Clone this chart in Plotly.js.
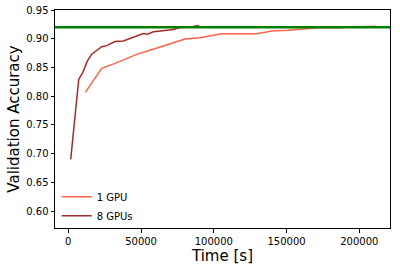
<!DOCTYPE html>
<html>
<head>
<meta charset="utf-8">
<script src="https://cdn.plot.ly/plotly-3.0.1.min.js"></script>
<style>html,body{margin:0;padding:0;background:#fff;}#chart{width:400px;height:271px;}</style>
</head>
<body>
<div id="chart"></div>
<script>
// Data
const time1GPU = [11700, 22950, 32100, 39000, 47000, 56150, 67600, 80200, 90500, 105400, 129500, 139800, 151200, 161500, 172000, 185000, 195000, 211500];
const acc1GPU  = [0.8066, 0.8484, 0.8571, 0.8641, 0.8728, 0.8800, 0.8890, 0.8995, 0.9017, 0.9087, 0.9087, 0.9134, 0.9146, 0.9174, 0.9190, 0.9190, 0.9205, 0.9215];
const time8GPU = [1650, 7150, 9900, 13050, 16080, 19500, 22950, 26400, 32100, 37800, 43550, 47500, 51550, 54550, 58400, 62000, 65300, 72150, 76000, 80000, 85000, 89800];
const acc8GPU  = [0.690, 0.829, 0.841, 0.861, 0.873, 0.880, 0.886, 0.888, 0.895, 0.896, 0.902, 0.905, 0.909, 0.908, 0.912, 0.913, 0.914, 0.916, 0.919, 0.921, 0.921, 0.923];
const targetAccuracy = 0.92;
const seriesNames = ["1 GPU", "8 GPUs"];
const yTicks = [0.60, 0.65, 0.70, 0.75, 0.80, 0.85, 0.90, 0.95];
const xTicks = [0, 50000, 100000, 150000, 200000];

const font = "DejaVu Sans, sans-serif";
const traces = [
  {x: time1GPU, y: acc1GPU, name: seriesNames[0], type: "scatter", mode: "lines",
   line: {color: "#ff6347", width: 1.5}},
  {x: time8GPU, y: acc8GPU, name: seriesNames[1], type: "scatter", mode: "lines",
   line: {color: "#a52a2a", width: 1.5}}
];
const layout = {
  width: 400, height: 271,
  margin: {l: 55, r: 10, t: 10, b: 43, pad: 0},
  paper_bgcolor: "#fff", plot_bgcolor: "#fff",
  font: {family: font, size: 10, color: "#000"},
  showlegend: true,
  legend: {x: 0.005, y: -0.01, xanchor: "left", yanchor: "bottom", bgcolor: "rgba(0,0,0,0)",
           font: {family: font, size: 10, color: "#000"}, tracegroupgap: 0, itemwidth: 30},
  xaxis: {range: [-9150, 221100], tickvals: xTicks, ticktext: xTicks.map(v => String(v)),
          ticks: "outside", ticklen: 3.5, tickwidth: 1, tickcolor: "#000",
          showline: true, mirror: true, linecolor: "#000", linewidth: 1,
          showgrid: false, zeroline: false,
          title: {text: "Time [s]", font: {family: font, size: 15, color: "#000"}, standoff: 4}},
  yaxis: {range: [0.5704, 0.95], tickvals: yTicks, ticktext: yTicks.map(v => v.toFixed(2)),
          ticks: "outside", ticklen: 3.5, tickwidth: 1, tickcolor: "#000",
          showline: true, mirror: true, linecolor: "#000", linewidth: 1,
          showgrid: false, zeroline: false,
          title: {text: "Validation Accuracy", font: {family: font, size: 15, color: "#000"}, standoff: 2}},
  shapes: [{type: "line", xref: "paper", x0: 0, x1: 1, yref: "y", y0: targetAccuracy, y1: targetAccuracy,
            line: {color: "#008000", width: 2.5}, layer: "above"}]
};
Plotly.newPlot("chart", traces, layout, {displayModeBar: false, staticPlot: true});
</script>
</body>
</html>
